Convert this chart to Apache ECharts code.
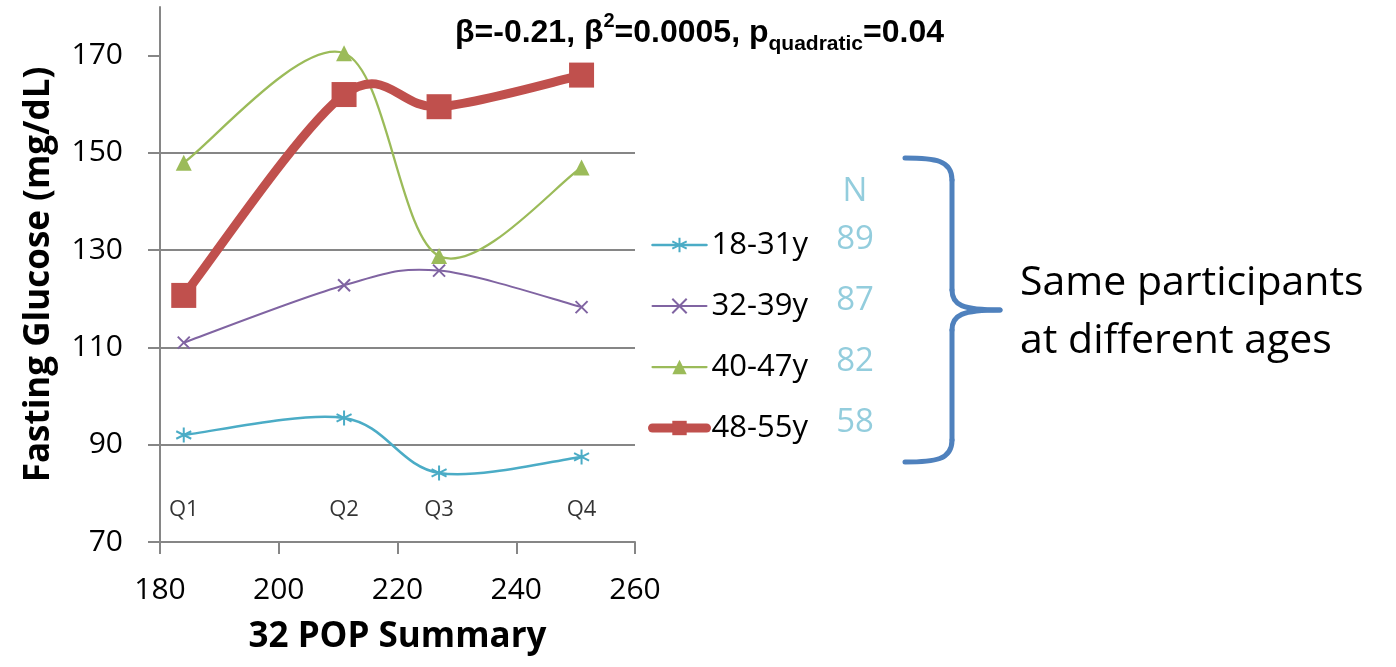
<!DOCTYPE html>
<html>
<head>
<meta charset="utf-8">
<script src="https://cdn.jsdelivr.net/npm/echarts@6/dist/echarts.min.js"></script>
<style>
  html, body { margin: 0; padding: 0; background: #fff; }
  #chart { width: 1396px; height: 667px; }
</style>
</head>
<body>
<div id="chart"></div>
<script>
// 横轴：32 POP 各四分位的均值
const popSummary = [184, 211, 227, 251]
const quartileLabels = ['Q1', 'Q2', 'Q3', 'Q4']

// 各年龄组
const ageGroups = ['18-31y', '32-39y', '40-47y', '48-55y']
const groupCounts = [89, 87, 82, 58]

// 空腹血糖 (mg/dL)
const glucose18to31 = [92, 95.5, 84.2, 87.5]
const glucose32to39 = [111, 122.8, 125.8, 118.3]
const glucose40to47 = [148, 170.5, 128.8, 147]
const glucose48to55 = [120.7, 162, 159.5, 166]

// 刻度
const xTicks = [180, 200, 220, 240, 260]
const yTicks = [70, 90, 110, 130, 150, 170]
const yTop = 180
const quartileLabelY = 76.6

const FONT = 'Open Sans'
const GRID_GRAY = '#868686'
const N_COLOR = '#93CDDD'
const BRACE_BLUE = '#4F81BD'

const toPoints = (values) => values.map((v, i) => [popSummary[i], v])

// 标记符号
const starPath = 'path://M0,-10L0,10M-8.66,-5L8.66,5M-8.66,5L8.66,-5'
const crossPath = 'path://M-7,-7L7,7M-7,7L7,-7'

// 各组样式
const groupStyles = [
  { color: '#4BACC6', width: 2.5, symbol: starPath, size: 15 },
  { color: '#8064A2', width: 2, symbol: crossPath, size: 12 },
  { color: '#9BBB59', width: 2.25, symbol: 'triangle', size: 16 },
  { color: '#C0504D', width: 9, symbol: 'rect', size: 25 }
]
const groupValues = [glucose18to31, glucose32to39, glucose40to47, glucose48to55]

const chart = echarts.init(document.getElementById('chart'))

// 类似 Excel 的平滑曲线（允许过冲），通过坐标轴换算
const smoothCurve = (values, style) => ({
  type: 'custom',
  silent: true,
  z: 2,
  data: toPoints(values),
  renderItem: (params, api) => {
    if (params.dataIndex !== 0) return
    const pts = values.map((v, i) => api.coord([popSummary[i], v]))
    let d = `M${pts[0][0]},${pts[0][1]}`
    for (let i = 0; i < pts.length - 1; i++) {
      const p0 = pts[i - 1] || pts[i]
      const p1 = pts[i]
      const p2 = pts[i + 1]
      const p3 = pts[i + 2] || pts[i + 1]
      const c1x = p1[0] + (p2[0] - p0[0]) / 6
      const c1y = p1[1] + (p2[1] - p0[1]) / 6
      const c2x = p2[0] - (p3[0] - p1[0]) / 6
      const c2y = p2[1] - (p3[1] - p1[1]) / 6
      d += ` C${c1x},${c1y} ${c2x},${c2y} ${p2[0]},${p2[1]}`
    }
    return {
      type: 'path',
      shape: { pathData: d },
      style: { fill: 'none', stroke: style.color, lineWidth: style.width, lineJoin: 'round' }
    }
  }
})

// 图例行位置
const legendTop = 224
const legendRow = 61

const nTexts = groupCounts.map((n, i) => ({
  type: 'text',
  x: 855,
  y: legendTop + 16 + i * legendRow,
  style: {
    text: String(n),
    align: 'center',
    verticalAlign: 'middle',
    fontFamily: FONT,
    fontSize: 33,
    fill: N_COLOR
  }
}))

// 右侧大括号
const braceStyle = { fill: 'none', stroke: BRACE_BLUE, lineWidth: 5, lineCap: 'round' }
const brace = [
  { type: 'bezierCurve', shape: { x1: 905, y1: 158, cpx1: 935, cpy1: 158, cpx2: 952, cpy2: 160, x2: 952, y2: 180 }, style: braceStyle },
  { type: 'line', shape: { x1: 952, y1: 180, x2: 952, y2: 290 }, style: braceStyle },
  { type: 'bezierCurve', shape: { x1: 952, y1: 290, cpx1: 952, cpy1: 305, cpx2: 962, cpy2: 310, x2: 1000, y2: 310 }, style: braceStyle },
  { type: 'bezierCurve', shape: { x1: 1000, y1: 310, cpx1: 962, cpy1: 310, cpx2: 952, cpy2: 315, x2: 952, y2: 330 }, style: braceStyle },
  { type: 'line', shape: { x1: 952, y1: 330, x2: 952, y2: 440 }, style: braceStyle },
  { type: 'bezierCurve', shape: { x1: 952, y1: 440, cpx1: 952, cpy1: 460, cpx2: 935, cpy2: 462, x2: 905, y2: 462 }, style: braceStyle }
]

// 折线只画标记，曲线由 custom 系列绘制
const markerSeries = groupValues.map((values, i) => ({
  name: ageGroups[i],
  type: 'line',
  z: 3,
  data: toPoints(values),
  symbol: groupStyles[i].symbol,
  symbolSize: groupStyles[i].size,
  lineStyle: { color: groupStyles[i].color, width: groupStyles[i].width, opacity: 0 },
  itemStyle: { color: groupStyles[i].color, borderColor: groupStyles[i].color, borderWidth: i < 2 ? 2 : 0 }
}))

const curveSeries = groupValues.map((values, i) => smoothCurve(values, groupStyles[i]))

const option = {
  animation: false,
  backgroundColor: '#fff',
  grid: { left: 160, right: 761, top: 7, bottom: 125 },
  legend: {
    data: ageGroups.map((name, i) => ({
      name,
      lineStyle: { color: groupStyles[i].color, width: groupStyles[i].width, opacity: 1, cap: 'round' }
    })),
    orient: 'vertical',
    left: 643,
    top: legendTop,
    itemWidth: 54,
    itemHeight: 18,
    itemGap: 29,
    selectedMode: false,
    textStyle: { fontFamily: FONT, fontSize: 31, lineHeight: 32, color: '#000' }
  },
  xAxis: {
    type: 'value',
    min: xTicks[0],
    max: xTicks[xTicks.length - 1],
    interval: 20,
    name: '32 POP Summary',
    nameLocation: 'middle',
    nameGap: 78,
    nameTextStyle: { fontFamily: FONT, fontWeight: 'bold', fontSize: 35, color: '#000' },
    axisLine: { show: true, onZero: false, lineStyle: { color: GRID_GRAY, width: 2 } },
    axisTick: { show: true, length: 12, lineStyle: { color: GRID_GRAY, width: 2 } },
    axisLabel: { margin: 33, fontFamily: FONT, fontSize: 30, color: '#000' },
    splitLine: { show: false }
  },
  yAxis: {
    type: 'value',
    min: yTicks[0],
    max: yTop,
    interval: 20,
    name: 'Fasting Glucose (mg/dL)',
    nameLocation: 'middle',
    nameRotate: 90,
    nameGap: 103,
    nameTextStyle: { fontFamily: FONT, fontWeight: 'bold', fontSize: 35, color: '#000' },
    axisLine: { show: true, onZero: false, lineStyle: { color: GRID_GRAY, width: 2 } },
    axisTick: { show: true, length: 12, customValues: yTicks, lineStyle: { color: GRID_GRAY, width: 2 } },
    axisLabel: { margin: 37, customValues: yTicks, fontFamily: FONT, fontSize: 30, color: '#000' },
    splitLine: { show: true, showMaxLine: false, lineStyle: { color: GRID_GRAY, width: 2 } }
  },
  series: [
    ...curveSeries,
    ...markerSeries,
    {
      // Q1-Q4 标注
      name: 'quartile',
      type: 'scatter',
      silent: true,
      symbolSize: 1,
      itemStyle: { color: 'transparent' },
      data: popSummary.map((x) => [x, quartileLabelY]),
      label: {
        show: true,
        position: 'inside',
        formatter: (p) => quartileLabels[p.dataIndex],
        fontFamily: FONT,
        fontSize: 22,
        color: '#000'
      }
    }
  ],
  graphic: [
    {
      type: 'text',
      x: 455,
      y: 33,
      style: {
        text: '{b|β=-0.21, β}{sup|2}{b|=0.0005, p}{sub|quadratic}{b|=0.04}',
        verticalAlign: 'middle',
        fill: '#000',
        rich: {
          b: { fontFamily: 'Liberation Sans', fontWeight: 'bold', fontSize: 32, lineHeight: 43, fill: '#000' },
          sup: { fontFamily: 'Liberation Sans', fontWeight: 'bold', fontSize: 20, lineHeight: 20, verticalAlign: 'top', fill: '#000' },
          sub: { fontFamily: 'Liberation Sans', fontWeight: 'bold', fontSize: 21, lineHeight: 21, verticalAlign: 'bottom', fill: '#000' }
        }
      }
    },
    {
      type: 'text',
      x: 855,
      y: 192,
      style: { text: 'N', align: 'center', verticalAlign: 'middle', fontFamily: FONT, fontSize: 33, fill: N_COLOR }
    },
    ...nTexts,
    ...brace,
    {
      type: 'text',
      x: 1020,
      y: 312,
      style: {
        text: 'Same participants\nat different ages',
        verticalAlign: 'middle',
        fontFamily: FONT,
        fontSize: 41,
        lineHeight: 58,
        fill: '#000'
      }
    }
  ]
}

chart.setOption(option)
</script>
</body>
</html>
